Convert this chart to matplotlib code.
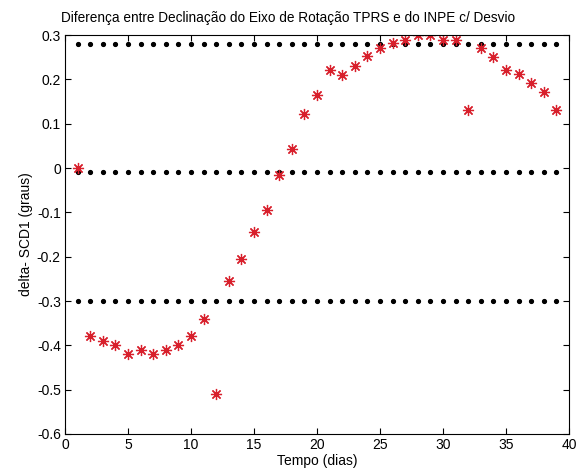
import numpy as np
import matplotlib
matplotlib.use("Agg")
import matplotlib.pyplot as plt

# dias
dias = list(range(1, 40))
delta = [0.00, -0.38, -0.39, -0.40, -0.42, -0.41, -0.42, -0.41, -0.40, -0.38,
         -0.34, -0.51, -0.255, -0.205, -0.145, -0.095, -0.016, 0.043, 0.121, 0.164,
         0.221, 0.211, 0.231, 0.253, 0.271, 0.281, 0.289, 0.300, 0.300, 0.289,
         0.289, 0.132, 0.271, 0.250, 0.221, 0.213, 0.192, 0.171, 0.132]

media = -0.01
desvio = 0.29
limites = [media + desvio, media, media - desvio]

xticks = list(range(0, 41, 5))
yticks = [0.3, 0.2, 0.1, 0, -0.1, -0.2, -0.3, -0.4, -0.5, -0.6]

plt.rcParams['font.family'] = ['Liberation Sans', 'DejaVu Sans']

fig = plt.figure(figsize=(5.77, 4.74), dpi=100)
ax = fig.add_axes([0.1127, 0.0844, 0.8733, 0.8416])

for lim in limites:
  ax.plot(dias, [lim] * len(dias), 'k.', markersize=5.5, linestyle='none')
ax.plot(dias, delta, linestyle='none', marker=(8, 2, 0), color='#d8202c',
        markersize=8, markeredgewidth=0.9)

ax.set_xlim(0, 40)
ax.set_ylim(-0.6, 0.3)
ax.set_xticks(xticks)
ax.set_yticks(yticks)
ax.set_yticklabels(['0.3', '0.2', '0.1', '0', '-0.1', '-0.2', '-0.3', '-0.4', '-0.5', '-0.6'])
ax.tick_params(direction='in', top=True, right=True, labelsize=10, length=4, pad=3)
for s in ax.spines.values():
  s.set_linewidth(0.8)

ax.text(0.442, 1.025, 'Diferença entre Declinação do Eixo de Rotação TPRS e do INPE c/ Desvio',
        transform=ax.transAxes, ha='center', va='bottom', fontsize=9.8)
ax.set_xlabel('Tempo (dias)', fontsize=10, labelpad=1)
ax.set_ylabel('delta- SCD1 (graus)', fontsize=10, labelpad=3)

fig.savefig('out.png', dpi=100)
